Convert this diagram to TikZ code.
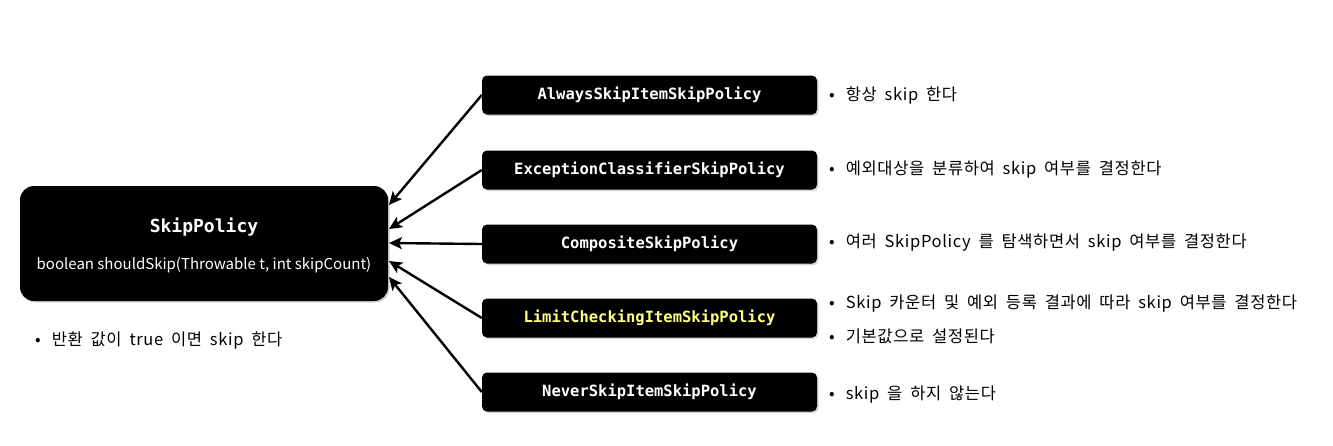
\documentclass[tikz,border=0pt]{standalone}
\usepackage{fontspec}
\setmainfont{Noto Sans CJK KR}
\newfontfamily\notefont[LetterSpace=4,WordSpace=1.8]{Noto Sans CJK KR}
\newfontfamily\codefont{DejaVu Sans Mono}
\usetikzlibrary{shadows,arrows.meta}
\definecolor{codeyellow}{HTML}{FFFF80}
\tikzset{
  mainbox/.style={draw=none, fill=black, rounded corners=14pt, drop shadow={shadow xshift=1.5pt, shadow yshift=-1.5pt, opacity=0.35}},
  policybox/.style={draw=none, fill=black, rounded corners=5pt, minimum width=335pt, minimum height=39pt, inner sep=0pt,
     text=white, font=\codefont\bfseries\fontsize{15.5}{17}\selectfont,
     drop shadow={shadow xshift=1.5pt, shadow yshift=-1.5pt, opacity=0.35}},
  note/.style={anchor=west, inner sep=0pt, font=\notefont\fontsize{16.5}{18}\selectfont, text=black},
  conn/.style={line width=2.4pt, -{Stealth[length=13pt,width=12pt,inset=3pt]}},
}
\begin{document}
\begin{tikzpicture}[x=1pt,y=-1pt]
\useasboundingbox (0,0) rectangle (1333,445);
% main box
\node[mainbox, minimum width=368pt, minimum height=115pt, inner sep=0pt] (main) at (204,243.5) {};
\node[text=white, font=\codefont\bfseries\fontsize{18}{20}\selectfont, inner sep=0pt] (mtitle) at (204,227) {SkipPolicy};
\node[text=white, font=\fontsize{15}{18}\selectfont, inner sep=0pt] (msig) at (204,265) {boolean shouldSkip(Throwable t, int skipCount)};
\node[note] (mnote) at (35,341) {•\hspace{11pt}반환 값이 true 이면 skip 한다};
% policy boxes
\node[policybox] (p1) at (649.5,95) {AlwaysSkipItemSkipPolicy};
\node[policybox] (p2) at (649.5,170) {ExceptionClassifierSkipPolicy};
\node[policybox] (p3) at (649.5,244) {CompositeSkipPolicy};
\node[policybox, text=codeyellow] (p4) at (649.5,318) {LimitCheckingItemSkipPolicy};
\node[policybox] (p5) at (649.5,392) {NeverSkipItemSkipPolicy};
% connectors
\coordinate (t1) at (389,205);
\coordinate (t2) at (389,229);
\coordinate (t3) at (389,243);
\coordinate (t4) at (389,261);
\coordinate (t5) at (389,277);
\draw[conn] (p1.west) -- (t1);
\draw[conn] (p2.west) -- (t2);
\draw[conn] (p3.west) -- (t3);
\draw[conn] (p4.west) -- (t4);
\draw[conn] (p5.west) -- (t5);
% notes
\node[note] (n1) at (829,96) {•\hspace{11pt}항상 skip 한다};
\node[note] (n2) at (829,170) {•\hspace{11pt}예외대상을 분류하여 skip 여부를 결정한다};
\node[note] (n3) at (829,243) {•\hspace{11pt}여러 SkipPolicy 를 탐색하면서 skip 여부를 결정한다};
\node[note] (n4a) at (829,304) {•\hspace{11pt}Skip 카운터 및 예외 등록 결과에 따라 skip 여부를 결정한다};
\node[note] (n4b) at (829,336) {•\hspace{11pt}기본값으로 설정된다};
\node[note] (n5) at (829,395) {•\hspace{11pt}skip 을 하지 않는다};
\end{tikzpicture}
\end{document}
